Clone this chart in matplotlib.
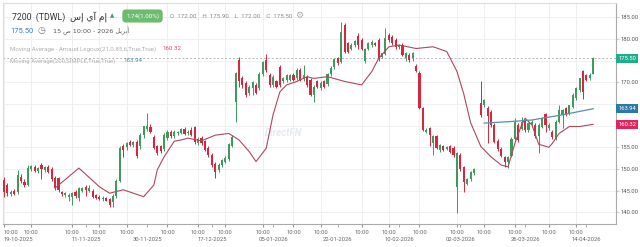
import matplotlib
matplotlib.use("Agg")
import matplotlib.pyplot as plt
import numpy as np

# daily candles (nan = no bar)
opens = [147.5, 146.3, 144.2, 144.9, 144.6, 148.2, 147.0, 146.4, 150.0, 150.5,
         149.6, 150.9, 149.8, 150.5, 150.0, 147.9, 148.0, 144.6, 144.0, 143.6,
         143.6, 144.8, 143.4, 145.0, 145.9, 145.0, 145.0, 143.9, 143.5, 143.0,
         143.2, 143.1, 142.4, 143.8, 147.3, 155.2, 155.0, 156.2, 155.6, 156.3,
         155.2, 157.8, 159.2, 159.8, 157.4, 155.2, 155.2, 154.6, 157.2, 158.6,
         157.6, 158.3, 158.4, 159.2, 158.2, 159.1, 159.6, 156.0, 157.1, 156.4,
         154.8, 153.2, 151.2, 149.8, 150.9, 151.7, 152.2, 155.4, 165.5, 175.2,
         171.0, 169.8, 167.6, 168.8, 169.4, 168.6, 172.0, 175.2, 171.7, 169.4,
         170.2, 173.5, 170.2, 170.5, 170.6, 171.7, 170.9, 172.8, 170.8, 171.3,
         170.6, 167.1, 170.2, 168.6, 170.2, 169.6, 171.9, 173.5, 175.5, 174.8,
         183.2, 179.0, 177.8, 178.6, 180.7, 179.8, 174.9, 177.8, 178.6, 179.0,
         179.8, 175.9, 176.5, 180.9, 180.5, 179.8, 178.2, 178.6, 175.5, 176.3,
         175.5, 173.7, 172.1, 164.0, 158.6, 159.4, 155.9, 157.5, 154.4, 155.2,
         154.6, 155.2, 154.8, 145.9, 153.2, 150.4, 146.6, 147.7, 149.0, np.nan,
         165.2, 164.8, 164.1, 163.2, 160.2, 156.5, 154.6, 152.7, 151.5, 153.1,
         157.0, 160.2, 159.3, 161.2, 159.0, 160.2, 160.2, 157.5, 159.8, 162.8,
         159.4, 158.6, 157.1, 160.9, 162.5, 164.0, 162.8, 164.4, 166.3, 168.2,
         172.5, 171.7, 170.9, 172.0]
highs = [148.2, 146.8, 145.2, 145.3, 149.8, 148.8, 147.6, 150.9, 150.9, 151.0,
         150.4, 151.3, 150.8, 150.9, 150.5, 148.4, 148.2, 145.0, 144.6, 144.5,
         144.6, 145.2, 145.8, 145.8, 146.4, 146.2, 145.4, 144.3, 143.9, 143.8,
         143.6, 143.4, 144.2, 147.8, 155.2, 155.8, 156.2, 156.6, 156.5, 156.8,
         158.2, 160.0, 162.9, 160.3, 157.9, 155.6, 155.6, 158.3, 158.9, 159.0,
         158.9, 158.8, 159.5, 159.6, 158.9, 159.7, 160.0, 157.3, 157.5, 156.8,
         155.2, 153.6, 151.6, 151.4, 152.4, 152.9, 156.0, 157.8, 172.4, 175.8,
         171.5, 170.2, 169.4, 170.4, 169.8, 172.3, 175.0, 176.5, 172.2, 171.6,
         170.6, 173.9, 171.2, 171.9, 172.0, 172.2, 173.2, 173.2, 174.0, 171.8,
         171.0, 169.4, 170.6, 170.2, 170.6, 172.2, 173.8, 175.6, 175.9, 184.0,
         183.6, 179.4, 179.0, 179.8, 181.4, 180.2, 178.0, 179.4, 179.8, 179.4,
         180.2, 176.8, 182.5, 181.3, 180.9, 180.2, 178.9, 179.0, 177.0, 176.7,
         177.0, 174.2, 172.5, 164.4, 159.4, 159.8, 157.9, 157.9, 155.8, 155.6,
         155.2, 155.6, 155.2, 154.0, 153.6, 150.8, 148.0, 149.6, 150.3, np.nan,
         170.2, 166.2, 164.5, 163.6, 160.6, 156.9, 155.0, 153.1, 153.0, 157.4,
         161.7, 160.6, 162.1, 161.6, 160.8, 161.2, 160.6, 160.5, 162.0, 163.0,
         160.5, 159.0, 161.2, 164.8, 163.8, 164.4, 164.8, 167.5, 168.9, 171.0,
         172.8, 172.0, 172.2, 175.9]
lows = [143.6, 143.8, 143.8, 144.0, 144.2, 146.8, 145.8, 146.0, 149.5, 149.2,
        149.0, 147.8, 149.2, 149.0, 147.2, 145.2, 144.8, 143.8, 143.6, 142.5,
        141.8, 143.4, 142.6, 144.6, 143.8, 144.6, 143.4, 143.0, 142.9, 142.6,
        142.5, 141.3, 141.3, 143.4, 147.0, 152.8, 154.4, 155.3, 155.0, 152.6,
        154.6, 157.2, 158.8, 158.2, 154.5, 153.3, 153.8, 154.2, 156.8, 157.2,
        157.2, 157.8, 158.0, 157.8, 157.9, 157.5, 155.8, 155.6, 155.6, 154.2,
        152.8, 150.4, 147.9, 149.2, 150.5, 151.3, 151.8, 155.0, 160.9, 169.0,
        168.6, 166.7, 167.0, 167.1, 167.2, 168.2, 171.5, 172.4, 169.0, 169.0,
        168.7, 169.0, 169.8, 170.0, 170.2, 170.2, 170.5, 170.2, 170.4, 169.0,
        166.8, 165.5, 168.6, 168.2, 168.7, 169.2, 171.5, 173.0, 174.0, 174.4,
        176.7, 176.8, 177.4, 178.2, 177.8, 177.4, 174.4, 177.4, 178.2, 178.4,
        175.0, 175.5, 176.2, 179.4, 178.6, 177.8, 177.8, 176.0, 175.0, 174.8,
        175.0, 172.3, 163.8, 158.8, 158.2, 155.2, 153.2, 154.5, 154.0, 154.2,
        154.3, 153.7, 152.8, 139.8, 149.6, 144.6, 146.2, 147.3, 148.6, np.nan,
        162.0, 164.4, 156.0, 159.6, 156.0, 154.2, 152.7, 150.5, 150.3, 152.8,
        156.7, 156.2, 159.0, 158.5, 158.6, 159.8, 157.1, 153.6, 159.4, 158.6,
        159.0, 156.9, 156.7, 160.5, 159.4, 162.2, 162.4, 164.0, 166.0, 167.8,
        166.2, 170.2, 170.5, 172.0]
closes = [144.8, 144.4, 144.7, 144.3, 148.6, 147.2, 146.3, 150.3, 150.6, 149.5,
          150.2, 150.1, 150.4, 149.4, 147.6, 145.5, 145.2, 144.2, 144.4, 144.0,
          144.4, 143.7, 145.6, 145.5, 145.2, 145.6, 143.6, 143.3, 143.1, 143.4,
          142.7, 141.7, 143.8, 147.3, 154.8, 154.3, 155.9, 155.6, 156.3, 152.9,
          157.8, 159.8, 159.9, 158.5, 154.8, 153.8, 154.1, 157.9, 158.6, 157.6,
          158.6, 158.5, 159.2, 158.1, 158.5, 157.8, 156.3, 156.9, 156.0, 154.4,
          153.2, 150.9, 149.4, 150.9, 152.0, 152.5, 155.7, 157.3, 172.1, 170.2,
          169.4, 167.1, 169.0, 170.0, 167.5, 172.0, 174.6, 172.8, 169.4, 171.3,
          169.0, 169.4, 170.9, 171.7, 171.7, 170.5, 172.8, 170.5, 171.7, 169.4,
          167.1, 169.0, 169.0, 169.8, 169.0, 171.9, 173.4, 175.3, 174.4, 181.7,
          177.1, 177.1, 178.6, 179.5, 178.6, 177.8, 177.8, 179.0, 179.4, 178.6,
          175.5, 176.7, 180.2, 179.8, 179.0, 178.2, 178.6, 176.3, 176.7, 175.2,
          176.7, 172.5, 164.0, 159.0, 159.0, 157.8, 157.5, 154.8, 155.5, 154.4,
          155.0, 154.0, 153.2, 153.6, 150.0, 147.0, 147.7, 149.2, 150.0, np.nan,
          162.5, 165.9, 162.2, 160.2, 156.3, 154.6, 153.1, 151.5, 152.7, 157.0,
          160.8, 156.6, 160.9, 158.9, 160.5, 160.9, 157.5, 160.2, 161.7, 160.2,
          160.2, 157.3, 160.9, 163.6, 163.6, 162.5, 164.8, 167.1, 168.6, 170.9,
          167.8, 170.5, 171.7, 175.5]

# Arnaud Legoux MA, read at some bars (bar index, value)
alma_bar = [15, 22, 28, 31, 35, 41, 44, 45, 47, 49, 50, 52, 54, 58, 62, 66, 69,
            72, 74, 77, 79, 81, 83, 86, 89, 91, 95, 100, 105, 108, 110, 113,
            116, 121, 126, 130, 133, 135, 137, 140, 143, 146, 148, 150, 152,
            153, 155, 157, 160, 161, 163, 166, 169, 173]
alma_val = [145.6, 150.2, 145.9, 144.4, 145.2, 143.6, 146.3, 149.8, 152.8,
            155.2, 156.4, 156.7, 157.1, 156.5, 157.8, 158.2, 156.7, 154.0,
            151.7, 154.8, 162.5, 167.8, 169.4, 170.2, 171.3, 170.9, 171.3,
            170.2, 169.4, 172.5, 175.5, 178.2, 178.6, 177.8, 178.2, 177.1,
            172.5, 167.3, 160.7, 155.2, 152.8, 150.9, 150.5, 155.9, 160.2,
            161.7, 160.2, 155.7, 155.0, 155.9, 158.2, 159.8, 159.8, 160.3]
# SMA 200
sma_bar = [141, 148, 155, 164, 173]
sma_val = [160.6, 160.9, 161.3, 162.5, 163.9]

time_ticks = [0, 8, 20, 28, 36, 48, 57, 65, 76, 85, 93, 105, 113, 122, 133,
              141, 150, 160, 168]
date_ticks = [0, 24, 42, 61, 79, 98, 116, 134, 153, 171]
date_labels = ["19-10-2025", "11-11-2025", "30-11-2025", "17-12-2025",
               "05-01-2026", "22-01-2026", "10-02-2026", "02-03-2026",
               "26-03-2026", "14-04-2026"]
last_price = 175.50
alma_last = 160.32
sma_last = 163.94

UP = "#3d9c5c"
DOWN = "#d7263d"
AX_FS = 4.2

plt.rcParams['font.family'] = ['Roboto', 'DejaVu Sans']
fig = plt.figure(figsize=(6.4, 2.47), dpi=100)
ax = fig.add_axes([3 / 640, 23 / 247, 613 / 640, 221 / 247])

o = np.array(opens)
h = np.array(highs)
l = np.array(lows)
c = np.array(closes)
idx = np.arange(len(o))
ok = ~np.isnan(o)
up = ok & (c >= o)
dn = ok & (c < o)

for m, col in ((up, UP), (dn, DOWN)):
    ax.vlines(idx[m], l[m], h[m], color=col, lw=0.7, zorder=3)
    body = np.maximum(np.abs(c[m] - o[m]), 0.25)
    ax.bar(idx[m], body, bottom=np.minimum(o[m], c[m]), width=0.62,
           color=col, lw=0, zorder=4)

ax.plot(alma_bar, alma_val, color="#b0475c", lw=0.8, zorder=5)
ax.plot(sma_bar, sma_val, color="#4f93a6", lw=0.9, zorder=5)

ax.axhline(last_price, color="#b5b5b5", lw=0.7, ls=(0, (2, 2)), zorder=2)

ax.set_xlim(-0.3, 179.7)
ax.set_ylim(137.3, 188.3)

# price axis on the right; labels under the value boxes are hidden
yt = np.arange(140, 190, 5)
hidden = (160, 165, 175)
ax.set_yticks(yt)
ax.yaxis.tick_right()
ax.set_yticklabels(["" if v in hidden else f"{v:.2f}" for v in yt])
ax.tick_params(axis='y', length=2, labelsize=AX_FS, labelcolor="#555555",
               color="#cccccc", pad=1.5)

# time axis: "10:00" row, date row underneath
ax.xaxis.remove_overlapping_locs = False
ax.set_xticks(time_ticks)
ax.set_xticklabels(["10:00"] * len(time_ticks))
ax.set_xticks(date_ticks, minor=True)
ax.set_xticklabels(date_labels, minor=True)
ax.tick_params(axis='x', which='both', length=2.5, labelsize=AX_FS,
               labelcolor="#666666", color="#999999")
ax.tick_params(axis='x', which='major', pad=1.5)
ax.tick_params(axis='x', which='minor', pad=7.2)
ax.get_xticklabels()[0].set_ha('left')
ax.get_xticklabels(minor=True)[0].set_ha('left')
ax.grid(True, which='major', color="#efefef", lw=0.7, zorder=0)
for s in ax.spines.values():
    s.set_color("#dddddd")
    s.set_linewidth(0.8)
ax.spines['bottom'].set_color("#aaaaaa")
ax.spines['right'].set_color("#aaaaaa")

# value boxes on the price axis
for val, col in ((last_price, "#1fae8c"), (sma_last, "#2b79a8"),
                 (alma_last, "#e0245e")):
    ax.annotate(f"{val:.2f}", xy=(1, val), xycoords=('axes fraction', 'data'),
                xytext=(1.5, 0), textcoords='offset points', va='center',
                ha='left', fontsize=AX_FS, color="white",
                bbox=dict(boxstyle="square,pad=0.35", fc=col, ec='none'),
                zorder=10, annotation_clip=False)

# watermark
ax.text(0.458, 0.41, "DirectFN", transform=ax.transAxes, fontsize=7,
        color="#e6e9ee", style='italic', fontweight='bold', ha='center',
        va='center', zorder=1)

# header
def top(y):
    return 1 - y / 247

fig.text(12 / 640, top(17), "7200  (TDWL)", fontsize=6.3, color="#333333",
         va='center')
fig.text(70 / 640, top(17), "سإ يآ مإ", fontsize=6.5, color="#333333",
         va='center', family=['DejaVu Sans'])
fig.text(110 / 640, top(16), "▲", fontsize=4, color="#3d9c5c", va='center',
         family=['DejaVu Sans'])
fig.text(126 / 640, top(16), "1.74(1.00%)", fontsize=4.4, color="white",
         va='center',
         bbox=dict(boxstyle="round,pad=0.6", fc="#6cbb6f", ec='none'))
fig.text(170 / 640, top(16),
         "O  172.00    H  175.90    L  172.00    C  175.50", fontsize=4.4,
         color="#888888", va='center')
fig.text(295 / 640, top(15.5), "⚙", fontsize=6.5, color="#aaaaaa",
         va='center', family=['DejaVu Sans'])
fig.text(10 / 640, top(31), "175.50", fontsize=5.5, color="#3b7dbd",
         va='center')
fig.text(38 / 640, top(30.5), "◷", fontsize=6.5, color="#777777",
         va='center', family=['DejaVu Sans'])
fig.text(53 / 640, top(31),
         "15 \ufeb9 10:00 - 2026 \ufede\ufef3\ufeae\ufe91\ufe83",
         fontsize=4.6, color="#555555", va='center', family=['DejaVu Sans'])
fig.text(10 / 640, top(49),
         "Moving Average - Arnaud Legoux(21,0.85,6,True,True)", fontsize=4.4,
         color="#b0b0b0", va='center')
fig.text(162 / 640, top(49), "160.32", fontsize=4.4, color="#d0506e",
         va='center')
fig.text(10 / 640, top(61), "Moving Average(200,SIMPLE,True,True)",
         fontsize=4.3, color="#b0b0b0", va='center')
fig.text(123 / 640, top(61), "163.94", fontsize=4.4, color="#4a8fb8",
         va='center')

fig.savefig("out.png", dpi=100)
